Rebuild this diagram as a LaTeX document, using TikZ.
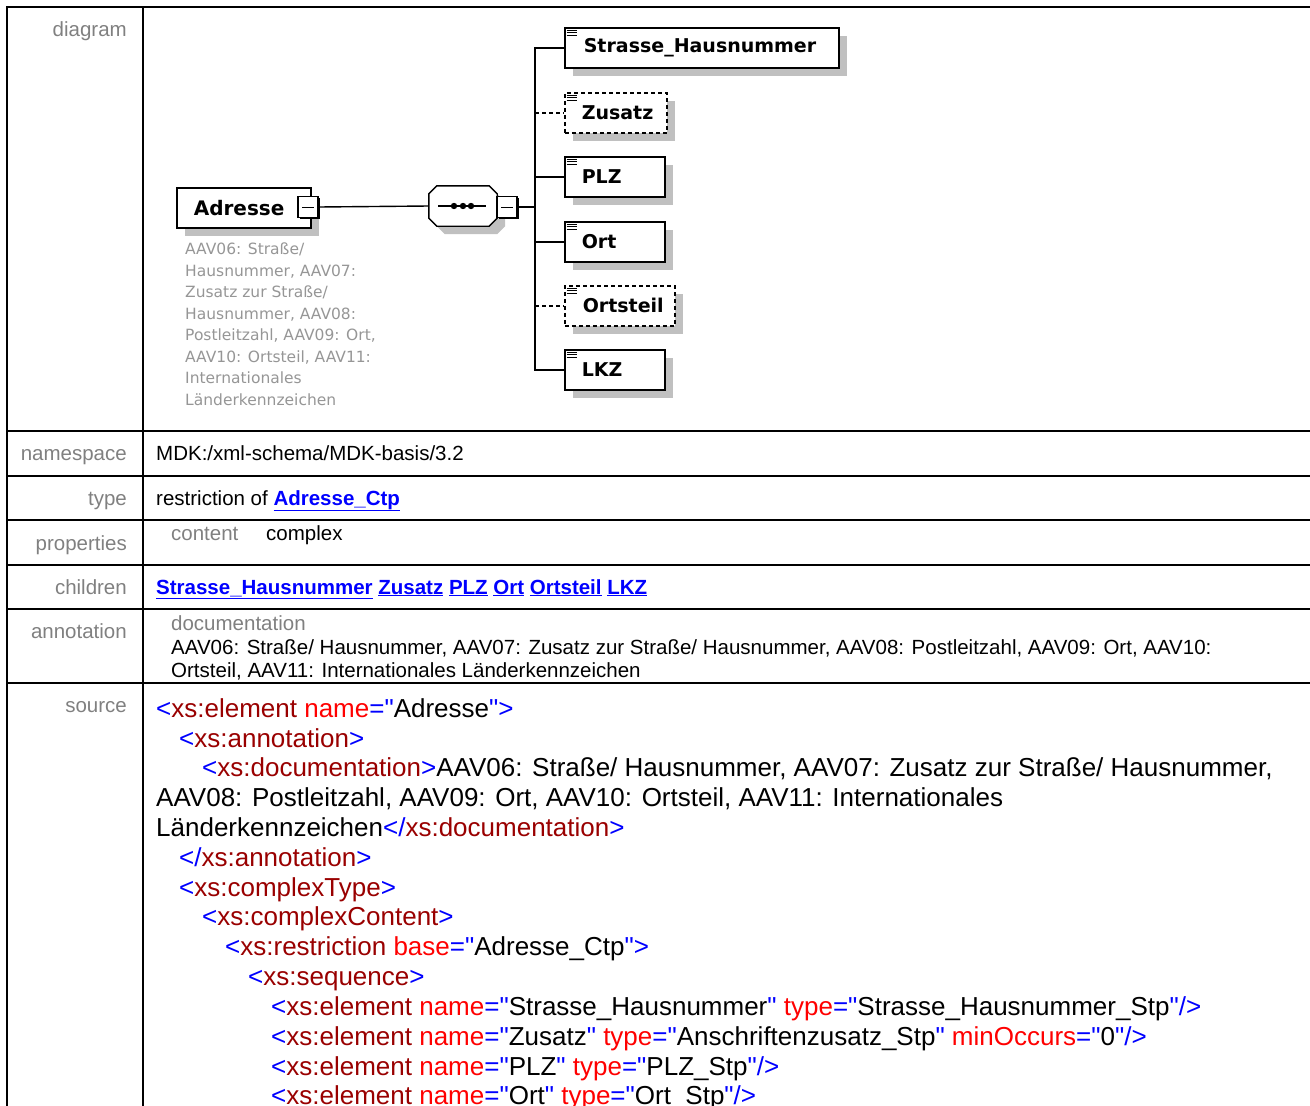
\documentclass[tikz,border=0pt]{standalone}
\usepackage{fontspec}
\setmainfont{Liberation Sans}
\newfontfamily\diafont{DejaVu Sans}
\usetikzlibrary{shadows}
\definecolor{labelgray}{RGB}{128,128,128}
\definecolor{notegray}{RGB}{150,150,150}
\definecolor{shadegray}{RGB}{192,192,192}
\definecolor{linkblue}{RGB}{0,0,255}
\definecolor{tagred}{RGB}{153,0,0}
\definecolor{attrred}{RGB}{255,0,0}
\definecolor{markblue}{RGB}{0,0,255}
\newcommand{\xmk}[1]{\textcolor{markblue}{#1}}
\newcommand{\xtag}[1]{\textcolor{tagred}{#1}}
\newcommand{\xattr}[1]{\textcolor{attrred}{#1}}
\newcommand{\xq}{\textquotedbl}
\newcommand{\xlink}[1]{\textcolor{linkblue}{\underline{\textbf{#1}}}}
\tikzset{
  rowlabel/.style={anchor=base east,inner sep=0pt,text=labelgray,font=\fontsize{20.5}{23.5}\selectfont},
  rowtext/.style={anchor=base west,inner sep=0pt,font=\fontsize{20.5}{23.5}\selectfont},
  proplabel/.style={rowtext,text=labelgray},
  srcline/.style={anchor=base west,inner sep=0pt,font=\fontsize{26}{30}\selectfont},
  tablerule/.style={line width=2.5pt},
  elbox/.style={draw,line width=1.6pt,fill=white,anchor=north west,minimum height=40pt,
    inner xsep=0pt,inner ysep=0pt,align=left,font=\diafont\bfseries\fontsize{19}{22}\selectfont,
    drop shadow={shadow xshift=8pt,shadow yshift=-8pt,fill=shadegray,opacity=1}},
  optbox/.style={elbox,dash pattern=on 4pt off 3pt},
  rootbox/.style={elbox,font=\diafont\bfseries\fontsize{20}{24}\selectfont},
  minusbox/.style={draw,line width=1.4pt,fill=white,minimum width=20pt,minimum height=21pt,inner sep=0pt,
    drop shadow={shadow xshift=1.6pt,shadow yshift=-1.6pt,fill=black,opacity=1}},
  seqbox/.style={minimum width=68pt,minimum height=40pt,inner sep=0pt},
  seqline/.style={line width=1.4pt,fill=white,
    preaction={fill=shadegray,transform canvas={shift={(8pt,-8pt)}}}},
  conn/.style={line width=1.4pt},
  optconn/.style={conn,dash pattern=on 4pt off 3pt},
  notetext/.style={anchor=north west,inner sep=0pt,align=left,text=notegray,
    font=\diafont\fontsize{15.5}{21.5}\selectfont}
}
\begin{document}
\begin{tikzpicture}[x=1pt,y=-1pt]
  \useasboundingbox (0,0) rectangle (1310,1106);
  \clip (0,0) rectangle (1310,1106);
  % table frame
  \draw[tablerule] (7,1110) -- (7,7) -- (1312,7);
  \draw[tablerule] (143,7) -- (143,1110);
  \foreach \y in {431,476,520,565,609,683}
    \draw[tablerule] (7,\y) -- (1312,\y);
  % row labels
  \node[rowlabel] (lbldiagram) at (127,36) {diagram};
  \node[rowlabel] (lblns) at (127,460) {namespace};
  \node[rowlabel] (lbltype) at (127,505) {type};
  \node[rowlabel] (lblprops) at (127,550) {properties};
  \node[rowlabel] (lblchildren) at (127,594) {children};
  \node[rowlabel] (lblannot) at (127,638) {annotation};
  \node[rowlabel] (lblsource) at (127,712) {source};

  % diagram
  \node[rootbox,text width=134pt] (adresse) at (176,187) {\hspace*{17pt}Adresse};
  \node[minusbox] (adrminus) at (308,207) {};
  \node[notetext] (adrnote) at (185,243) {AAV06: Straße/\\Hausnummer, AAV07:\\Zusatz zur Straße/\\Hausnummer, AAV08:\\Postleitzahl, AAV09: Ort,\\AAV10: Ortsteil, AAV11:\\Internationales\\Länderkennzeichen};
  \node[seqbox] (seq) at (463,206) {};
  \draw[seqline] ([xshift=8pt]seq.north west) -- ([xshift=-8pt]seq.north east)
    -- ([yshift=-8pt]seq.north east) -- ([yshift=8pt]seq.south east)
    -- ([xshift=-8pt]seq.south east) -- ([xshift=8pt]seq.south west)
    -- ([yshift=8pt]seq.south west) -- ([yshift=-8pt]seq.north west) -- cycle;
  \node[minusbox] (seqminus) at (507,207) {};
  \coordinate (bar) at (535,207);

  \node[elbox,text width=274pt] (strasse) at (564,27) {\hspace*{19pt}Strasse\_Hausnummer};
  \node[optbox,text width=102pt] (zusatz) at (564,92) {\hspace*{17pt}Zusatz};
  \node[elbox,text width=100pt] (plz) at (564,156) {\hspace*{17pt}PLZ};
  \node[elbox,text width=100pt] (ort) at (564,221) {\hspace*{17pt}Ort};
  \node[optbox,text width=110pt] (ortsteil) at (564,285) {\hspace*{18pt}Ortsteil};
  \node[elbox,text width=100pt] (lkz) at (564,349) {\hspace*{17pt}LKZ};

  \foreach \n in {strasse,zusatz,plz,ort,ortsteil,lkz}
    \foreach \dy in {3,5.5,8}
      \draw[line width=1pt] ([shift={(2.5,\dy)}]\n.north west) -- ++(10,0);
  \foreach \n in {adrminus,seqminus}
    \draw[line width=1pt] ([xshift=-6pt]\n.center) -- ([xshift=6pt]\n.center);
  \draw[conn] ([xshift=-25pt]seq.center) -- ([xshift=23pt]seq.center);
  \foreach \dx in {-9,0,8}
    \fill ([xshift=\dx pt]seq.center) circle (3.2);

  \draw[conn] (adrminus.east) -- (seq.west);
  \draw[conn] (seqminus.east) -- (bar);
  \draw[conn] (strasse.west) -- (strasse.west -| bar) -- (lkz.west -| bar) -- (lkz.west);
  \draw[conn] (plz.west -| bar) -- (plz.west);
  \draw[conn] (ort.west -| bar) -- (ort.west);
  \draw[optconn] (zusatz.west -| bar) -- (zusatz.west);
  \draw[optconn] (ortsteil.west -| bar) -- (ortsteil.west);

  % rows
  \node[rowtext] (nsval) at (156,460) {MDK:/xml-schema/MDK-basis/3.2};
  \node[rowtext] (typeval) at (156,505) {restriction of \xlink{Adresse\_Ctp}};
  \node[proplabel] (contentlbl) at (171,540) {content};
  \node[rowtext] (contentval) at (266,540) {complex};
  \node[rowtext] (childval) at (156,594) {\xlink{Strasse\_Hausnummer} \xlink{Zusatz} \xlink{PLZ} \xlink{Ort} \xlink{Ortsteil} \xlink{LKZ}};
  \node[proplabel] (doclbl) at (171,630) {documentation};
  \node[rowtext] (docline1) at (171,654) {AAV06: Straße/ Hausnummer, AAV07: Zusatz zur Straße/ Hausnummer, AAV08: Postleitzahl, AAV09: Ort, AAV10:};
  \node[rowtext] (docline2) at (171,677) {Ortsteil, AAV11: Internationales Länderkennzeichen};

  % source listing
  \node[srcline] (src1) at (156,717) {\xmk{<}\xtag{xs:element} \xattr{name}\xmk{=\xq}Adresse\xmk{\xq>}};
  \node[srcline] (src2) at (179,747) {\xmk{<}\xtag{xs:annotation}\xmk{>}};
  \node[srcline] (src3) at (202,776) {\xmk{<}\xtag{xs:documentation}\xmk{>}AAV06: Straße/ Hausnummer, AAV07: Zusatz zur Straße/ Hausnummer,};
  \node[srcline] (src4) at (156,806) {AAV08: Postleitzahl, AAV09: Ort, AAV10: Ortsteil, AAV11: Internationales};
  \node[srcline] (src5) at (156,836) {Länderkennzeichen\xmk{</}\xtag{xs:documentation}\xmk{>}};
  \node[srcline] (src6) at (179,866) {\xmk{</}\xtag{xs:annotation}\xmk{>}};
  \node[srcline] (src7) at (179,896) {\xmk{<}\xtag{xs:complexType}\xmk{>}};
  \node[srcline] (src8) at (202,925) {\xmk{<}\xtag{xs:complexContent}\xmk{>}};
  \node[srcline] (src9) at (225,955) {\xmk{<}\xtag{xs:restriction} \xattr{base}\xmk{=\xq}Adresse\_Ctp\xmk{\xq>}};
  \node[srcline] (src10) at (248,985) {\xmk{<}\xtag{xs:sequence}\xmk{>}};
  \node[srcline] (src11) at (271,1015) {\xmk{<}\xtag{xs:element} \xattr{name}\xmk{=\xq}Strasse\_Hausnummer\xmk{\xq} \xattr{type}\xmk{=\xq}Strasse\_Hausnummer\_Stp\xmk{\xq/>}};
  \node[srcline] (src12) at (271,1045) {\xmk{<}\xtag{xs:element} \xattr{name}\xmk{=\xq}Zusatz\xmk{\xq} \xattr{type}\xmk{=\xq}Anschriftenzusatz\_Stp\xmk{\xq} \xattr{minOccurs}\xmk{=\xq}0\xmk{\xq/>}};
  \node[srcline] (src13) at (271,1075) {\xmk{<}\xtag{xs:element} \xattr{name}\xmk{=\xq}PLZ\xmk{\xq} \xattr{type}\xmk{=\xq}PLZ\_Stp\xmk{\xq/>}};
  \node[srcline] (src14) at (271,1104) {\xmk{<}\xtag{xs:element} \xattr{name}\xmk{=\xq}Ort\xmk{\xq} \xattr{type}\xmk{=\xq}Ort\_Stp\xmk{\xq/>}};
\end{tikzpicture}
\end{document}
